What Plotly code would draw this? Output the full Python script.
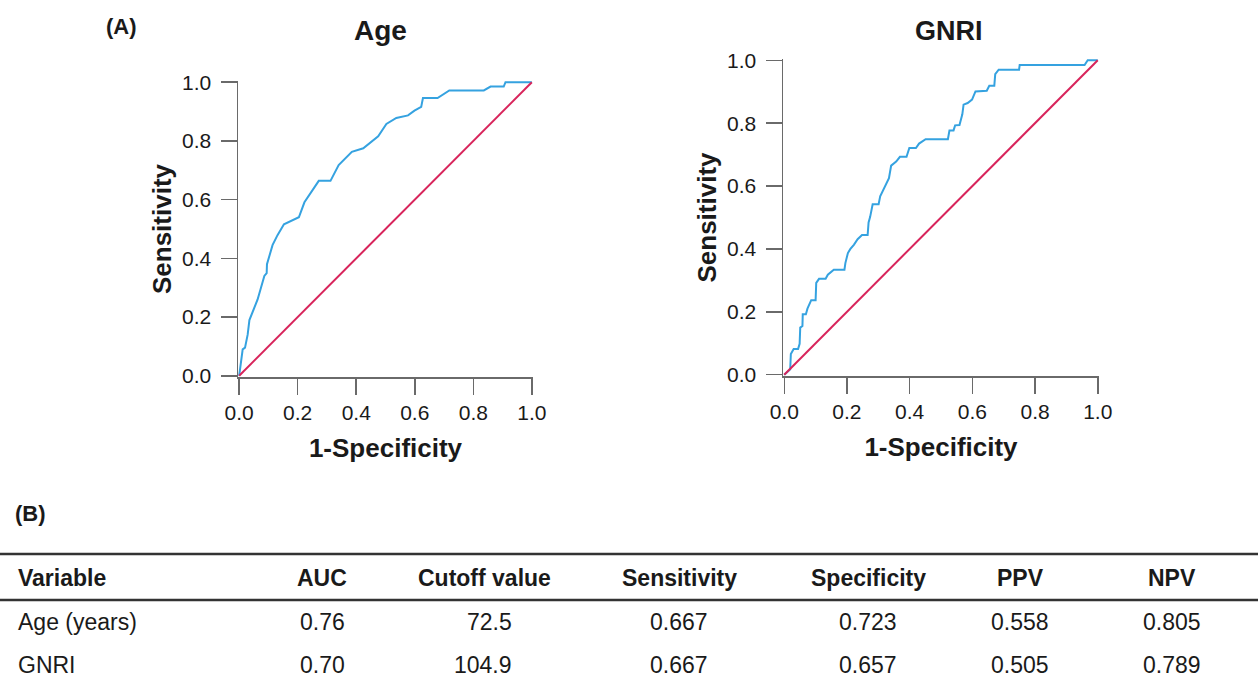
import plotly.graph_objects as go

# ---------------- data ----------------
age_fpr = [0, 0.005, 0.012, 0.02, 0.029, 0.035, 0.046, 0.063, 0.086, 0.094, 0.095, 0.114,
           0.131, 0.153, 0.204, 0.223, 0.272, 0.312, 0.34, 0.385, 0.424, 0.475, 0.503,
           0.537, 0.577, 0.599, 0.622, 0.628, 0.678, 0.718, 0.836, 0.859, 0.904, 0.91, 1.0]
age_tpr = [0, 0.045, 0.09, 0.096, 0.14, 0.19, 0.22, 0.26, 0.34, 0.35, 0.38, 0.445,
           0.479, 0.516, 0.54, 0.591, 0.664, 0.664, 0.718, 0.763, 0.775, 0.816, 0.858,
           0.878, 0.887, 0.903, 0.916, 0.946, 0.946, 0.972, 0.972, 0.985, 0.985, 1.0, 1.0]

gnri_fpr = [0, 0.008, 0.019, 0.021, 0.030, 0.044, 0.049, 0.051, 0.058, 0.059, 0.069, 0.074,
            0.081, 0.086, 0.100, 0.102, 0.111, 0.132, 0.139, 0.158, 0.192, 0.195, 0.203,
            0.211, 0.222, 0.234, 0.248, 0.266, 0.269, 0.274, 0.282, 0.301, 0.306, 0.314,
            0.322, 0.329, 0.334, 0.341, 0.357, 0.369, 0.390, 0.399, 0.420, 0.430, 0.451,
            0.522, 0.527, 0.540, 0.545, 0.559, 0.568, 0.572, 0.585, 0.599, 0.610, 0.646,
            0.654, 0.670, 0.673, 0.684, 0.749, 0.751, 0.958, 0.968, 1.0]
gnri_tpr = [0, 0.008, 0.017, 0.066, 0.082, 0.082, 0.098, 0.150, 0.155, 0.192, 0.192, 0.210,
            0.224, 0.237, 0.237, 0.292, 0.305, 0.305, 0.318, 0.334, 0.334, 0.355, 0.387,
            0.400, 0.413, 0.431, 0.444, 0.444, 0.484, 0.502, 0.542, 0.542, 0.567, 0.584,
            0.597, 0.612, 0.625, 0.665, 0.678, 0.693, 0.693, 0.721, 0.721, 0.735, 0.749,
            0.749, 0.777, 0.777, 0.793, 0.794, 0.828, 0.859, 0.864, 0.875, 0.901, 0.903,
            0.919, 0.919, 0.956, 0.970, 0.970, 0.985, 0.985, 1.000, 1.0]

ref_line = [0, 1]
tick_vals = [0.0, 0.2, 0.4, 0.6, 0.8, 1.0]
tick_text = ["0.0", "0.2", "0.4", "0.6", "0.8", "1.0"]

panel_titles = ["Age", "GNRI"]
x_title = "1-Specificity"
y_title = "Sensitivity"

table_header = ["Variable", "AUC", "Cutoff value", "Sensitivity", "Specificity", "PPV", "NPV"]
row_names = ["Age (years)", "GNRI"]
auc = ["0.76", "0.70"]
cutoff = ["72.5", "104.9"]
sensitivity = ["0.667", "0.667"]
specificity = ["0.723", "0.657"]
ppv = ["0.558", "0.505"]
npv = ["0.805", "0.789"]

# ---------------- layout helpers ----------------
W, H = 1258, 682
def px(x):
    return x / W
def py(y):
    return 1 - y / H

BLUE = "#35A2E0"
RED = "#D8245B"
AXIS = "#6a6a6a"
TXT = "#1a1a1a"
FONT = "Liberation Sans, Arial, sans-serif"

fig = go.Figure()
fig.add_trace(go.Scatter(x=age_fpr, y=age_tpr, mode="lines", line=dict(color=BLUE, width=2),
                         xaxis="x", yaxis="y", showlegend=False))
fig.add_trace(go.Scatter(x=ref_line, y=ref_line, mode="lines", line=dict(color=RED, width=2),
                         xaxis="x", yaxis="y", showlegend=False))
fig.add_trace(go.Scatter(x=gnri_fpr, y=gnri_tpr, mode="lines", line=dict(color=BLUE, width=2),
                         xaxis="x2", yaxis="y2", showlegend=False))
fig.add_trace(go.Scatter(x=ref_line, y=ref_line, mode="lines", line=dict(color=RED, width=2),
                         xaxis="x2", yaxis="y2", showlegend=False))

def axis_common(title, standoff, label_gap):
    return dict(range=[-0.004, 1.004], tickvals=tick_vals, ticktext=tick_text,
                showline=True, linecolor=AXIS, linewidth=1.5, ticks="outside",
                ticklen=16, tickwidth=1.5, tickcolor=AXIS, showgrid=False, zeroline=False,
                ticklabelstandoff=label_gap,
                tickfont=dict(family=FONT, size=21, color=TXT),
                title=dict(text="<b>%s</b>" % title, font=dict(family=FONT, size=26, color=TXT),
                           standoff=standoff),
                automargin=False, fixedrange=True)

fig.update_layout(
    width=W, height=H, margin=dict(l=0, r=0, t=0, b=0, pad=0, autoexpand=False),
    paper_bgcolor="white", plot_bgcolor="white",
    xaxis=dict(domain=[px(238), px(533)], anchor="y", **axis_common(x_title, 16, 0)),
    yaxis=dict(domain=[py(377), py(81)], anchor="x", **axis_common(y_title, 3, 5)),
    xaxis2=dict(domain=[px(783), px(1099)], anchor="y2", **axis_common(x_title, 16, 0)),
    yaxis2=dict(domain=[py(376), py(59)], anchor="x2", **axis_common(y_title, 3, 5)),
)

ann = []
# panel labels & titles
ann.append(dict(text="<b>(A)</b>", x=px(104), y=py(27), xanchor="left", yanchor="middle",
                font=dict(family=FONT, size=22, color=TXT)))
ann.append(dict(text="<b>(B)</b>", x=px(13), y=py(513), xanchor="left", yanchor="middle",
                font=dict(family=FONT, size=22, color=TXT)))
ann.append(dict(text="<b>%s</b>" % panel_titles[0], x=px(380), y=py(31), xanchor="center",
                yanchor="middle", font=dict(family=FONT, size=28, color=TXT)))
ann.append(dict(text="<b>%s</b>" % panel_titles[1], x=px(949), y=py(31), xanchor="center",
                yanchor="middle", font=dict(family=FONT, size=27, color=TXT)))

# table
col_x = [16, 322, 484, 679, 868, 1020, 1172]
row_y = [578, 622, 665]
for j, h in enumerate(table_header):
    ann.append(dict(text="<b>%s</b>" % h, x=px(col_x[j]), y=py(row_y[0]),
                    xanchor="left" if j == 0 else "center", yanchor="middle",
                    font=dict(family=FONT, size=23, color=TXT)))
cols = [row_names, auc, cutoff, sensitivity, specificity, ppv, npv]
for i in range(len(row_names)):
    for j, col in enumerate(cols):
        if j == 0:
            xa, xv = "left", col_x[0]
        elif j == 2:
            xa, xv = "right", 514
        else:
            xa, xv = "center", col_x[j]
        ann.append(dict(text=col[i], x=px(xv), y=py(row_y[i + 1]), xanchor=xa,
                        yanchor="middle", font=dict(family=FONT, size=23, color=TXT)))
for a in ann:
    a.update(xref="paper", yref="paper", showarrow=False)
fig.update_layout(annotations=ann)

fig.update_layout(shapes=[
    dict(type="line", xref="paper", yref="paper", x0=0, x1=1, y0=py(554), y1=py(554),
         line=dict(color="#333333", width=2.5)),
    dict(type="line", xref="paper", yref="paper", x0=0, x1=1, y0=py(600), y1=py(600),
         line=dict(color="#333333", width=2.5)),
])

fig.write_html("out.html",
               config={"displayModeBar": False, "displaylogo": False, "staticPlot": True},
               post_script="document.body.style.margin='0px';document.body.style.overflow='hidden';")
